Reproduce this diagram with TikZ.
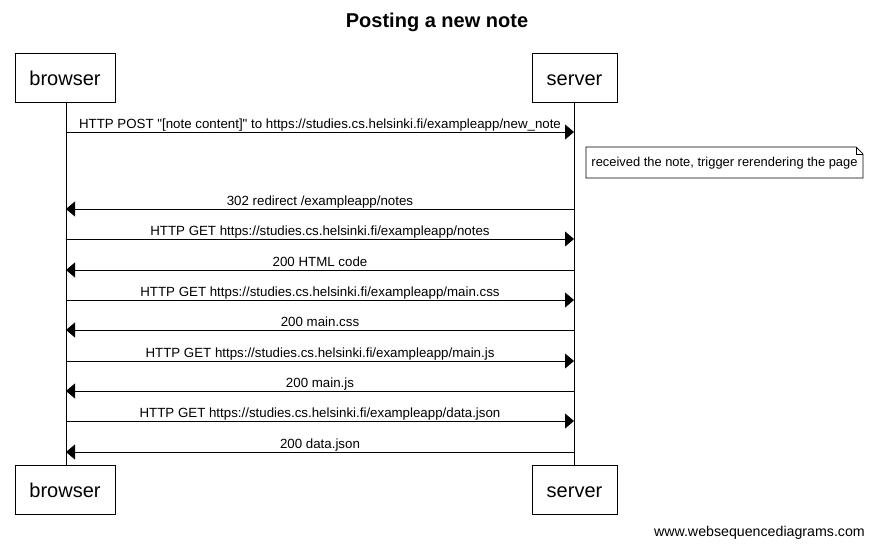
\documentclass[tikz,border=0pt]{standalone}
\usepackage{fontspec}
\setmainfont{Liberation Sans}
\usetikzlibrary{arrows.meta}
\begin{document}
\begin{tikzpicture}[x=1pt,y=-1pt,
  actor/.style={draw,line width=0.9pt,minimum height=49pt,inner sep=0pt,text height=17pt,text depth=2pt,font=\fontsize{20}{22}\selectfont},
  life/.style={line width=0.8pt},
  msg/.style={line width=0.8pt,-{Triangle[length=9pt,width=15pt]}},
  lbl/.style={font=\fontsize{13.3}{15}\selectfont,inner sep=0pt,anchor=base,yshift=4pt}]
\useasboundingbox (0,0) rectangle (873,549);
\node[font=\bfseries\fontsize{20}{22}\selectfont] (title) at (437,22) {Posting a new note};
\node[actor,minimum width=100pt] (bt) at (65,77.5) {browser};
\node[actor,minimum width=85pt] (st) at (574.5,77.5) {server};
\node[actor,minimum width=100pt] (bb) at (65,489.5) {browser};
\node[actor,minimum width=85pt] (sb) at (574.5,489.5) {server};
\coordinate (bl1) at (66,102); \coordinate (bl2) at (66,465);
\coordinate (sl1) at (574,102); \coordinate (sl2) at (574,465);
\draw[life] (bl1) -- (bl2);
\draw[life] (sl1) -- (sl2);
\foreach \i/\y in {1/132,2/209,3/239,4/270,5/300,6/330,7/361,8/391,9/421,10/452}{
  \coordinate (b\i) at (66,\y); \coordinate (s\i) at (574,\y);}
\draw[msg] (b1) -- node[lbl] {HTTP POST \textquotedbl[note content]\textquotedbl{} to https://studies.cs.helsinki.fi/exampleapp/new\_note} (s1);
\draw[msg] (s2) -- node[lbl] {302 redirect /exampleapp/notes} (b2);
\draw[msg] (b3) -- node[lbl] {HTTP GET https://studies.cs.helsinki.fi/exampleapp/notes} (s3);
\draw[msg] (s4) -- node[lbl] {200 HTML code} (b4);
\draw[msg] (b5) -- node[lbl] {HTTP GET https://studies.cs.helsinki.fi/exampleapp/main.css} (s5);
\draw[msg] (s6) -- node[lbl] {200 main.css} (b6);
\draw[msg] (b7) -- node[lbl] {HTTP GET https://studies.cs.helsinki.fi/exampleapp/main.js} (s7);
\draw[msg] (s8) -- node[lbl] {200 main.js} (b8);
\draw[msg] (b9) -- node[lbl] {HTTP GET https://studies.cs.helsinki.fi/exampleapp/data.json} (s9);
\draw[msg] (s10) -- node[lbl] {200 data.json} (b10);
% note
\draw[line width=0.7pt] (586,147) -- (856,147) -- (863,154) -- (863,178) -- (586,178) -- cycle;
\draw[line width=0.7pt] (856,147) -- (856,154) -- (863,154);
\node[font=\fontsize{12.9}{14}\selectfont,inner sep=0pt] (note) at (724.5,163) {received the note, trigger rerendering the page};
\node[font=\fontsize{14.2}{16}\selectfont,anchor=east,inner sep=0pt] (wsd) at (865,533) {www.websequencediagrams.com};
\end{tikzpicture}
\end{document}
